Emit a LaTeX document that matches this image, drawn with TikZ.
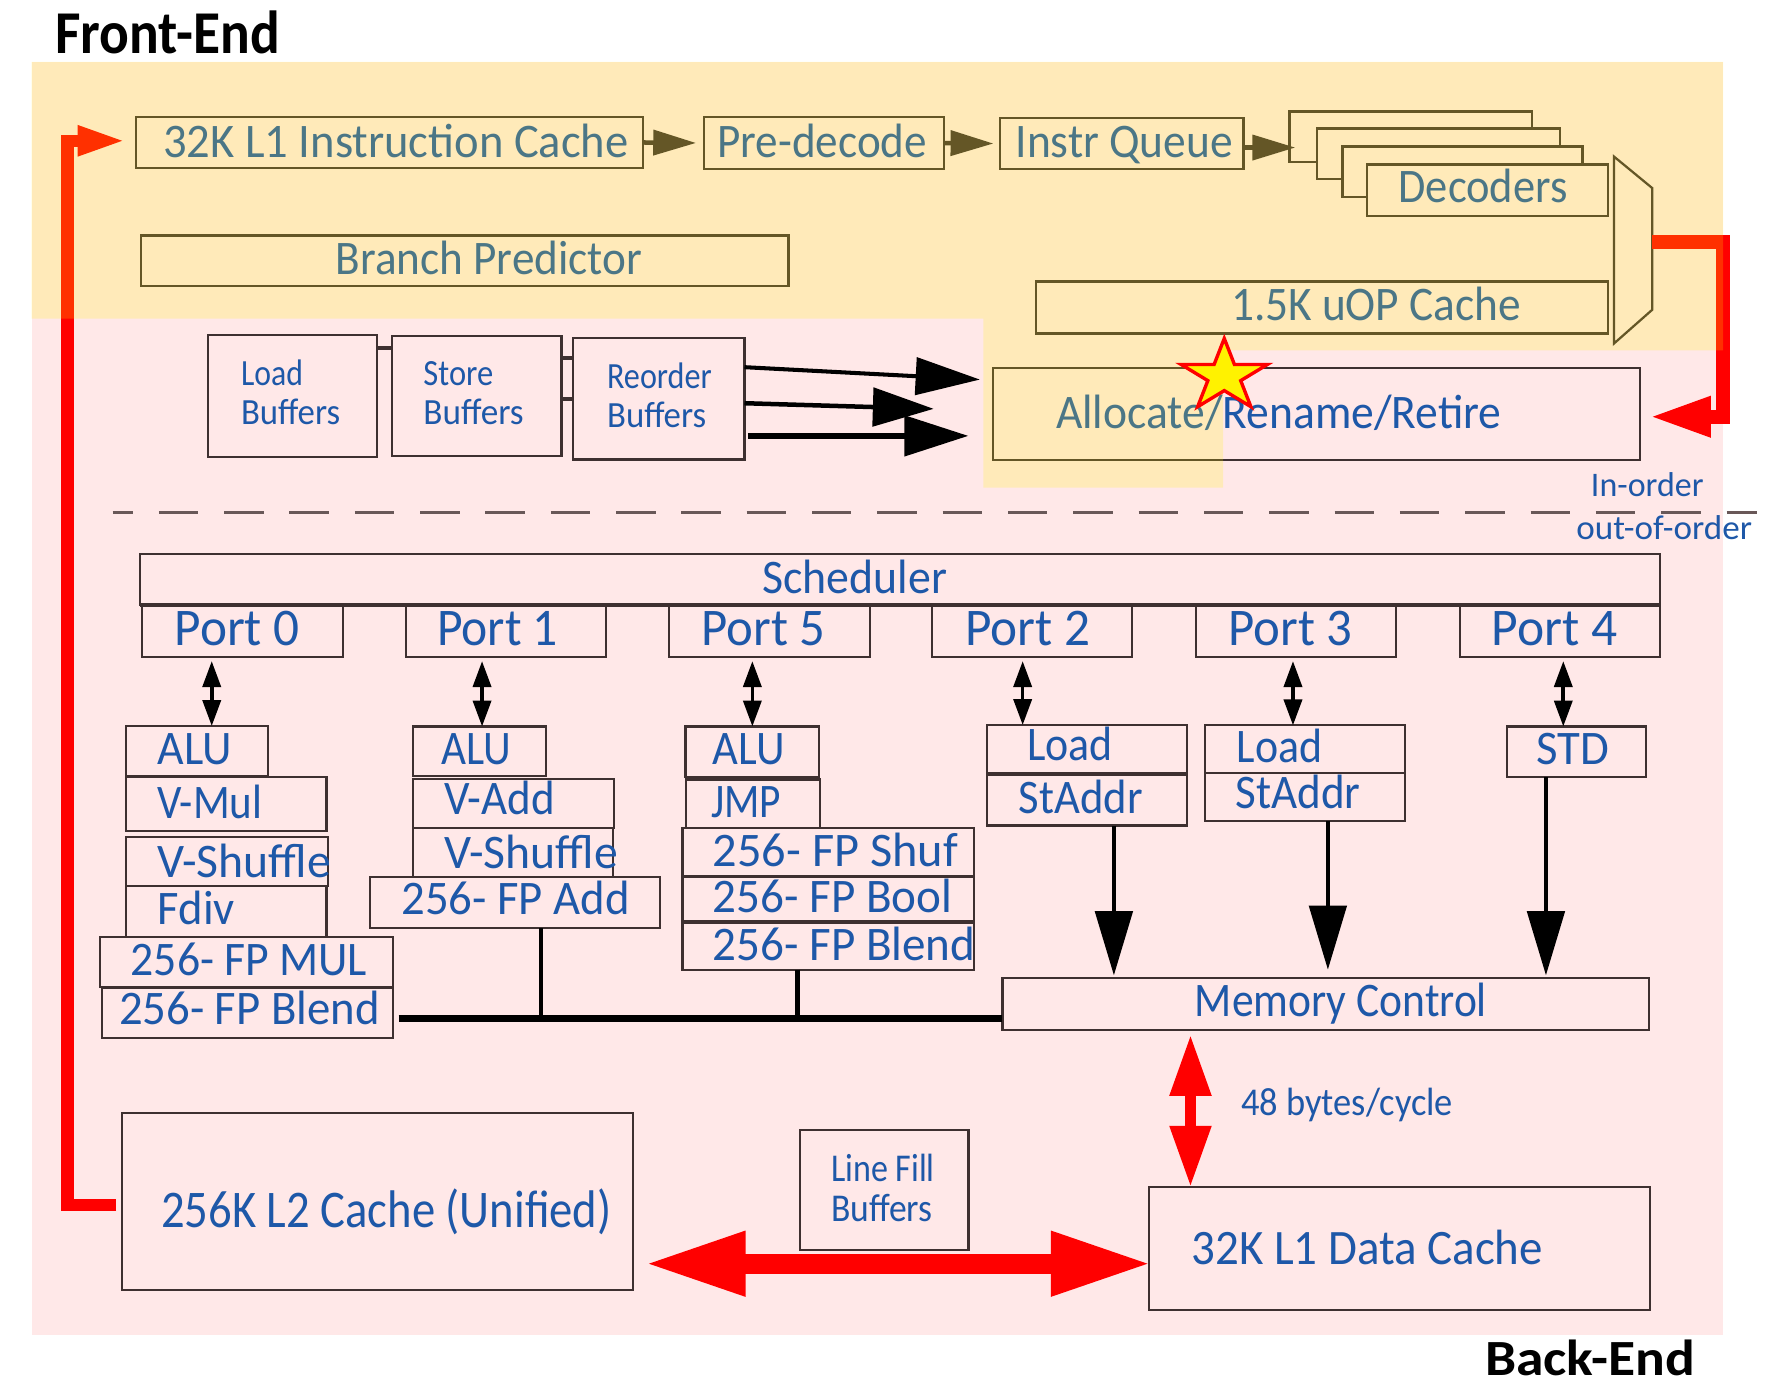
\documentclass[tikz,border=0pt]{standalone}
\usepackage{fontspec}
\setmainfont{Carlito}
\usetikzlibrary{arrows.meta,shapes.geometric,fit}
\definecolor{pinkbg}{RGB}{255,232,232}
\definecolor{txtblue}{RGB}{30,88,168}
\definecolor{edgec}{RGB}{62,48,48}
\definecolor{dashc}{RGB}{105,88,88}
\definecolor{redc}{RGB}{255,0,0}
\newcommand\W[2]{\resizebox{#1pt}{\height}{#2}}
\begin{document}
\begin{tikzpicture}[x=0.5pt,y=-0.5pt,
  box/.style={draw=edgec, line width=1pt, inner sep=0pt, outer sep=0pt},
  lab/.style={text=txtblue, inner sep=0pt, outer sep=0pt, anchor=base west, font=\fontsize{21.4}{24}\selectfont},
  portlab/.style={lab, font=\fontsize{23.5}{26}\selectfont},
  small/.style={lab, font=\fontsize{16.4}{19}\selectfont},
  tiny/.style={lab, font=\fontsize{15.3}{18}\selectfont},
  mid/.style={lab, font=\fontsize{17.5}{20}\selectfont},
  big/.style={lab, font=\fontsize{23.5}{26}\selectfont},
  title/.style={inner sep=0pt, outer sep=0pt, anchor=base west, text=black},
  frontarr/.style={draw=edgec, line width=2pt, -{Triangle[length=19pt,width=11pt]}},
  portarr/.style={draw=black, line width=1.6pt, {Triangle[length=11.5pt,width=8pt]}-{Triangle[length=11.5pt,width=8pt]}},
  memarr/.style={draw=black, line width=2pt, -{Triangle[length=28.5pt,width=16.5pt]}},
  redpath/.style={draw=redc, line width=5.5pt}
]
\useasboundingbox (0,0) rectangle (1568,1233);
% background
\fill[pinkbg] (28,55) rectangle (1530,1185);

% ---------- front end ----------
\node[box, fit={(121,104)(571,149)}] (l1i) {};
\node[box, fit={(625,104)(838,150)}] (pre) {};
\node[box, fit={(888,105)(1104,150)}] (iq) {};
\node[box, fill=pinkbg, fit={(1145,99)(1360,144)}] (dec1) {};
\node[box, fill=pinkbg, fit={(1169,114)(1385,159)}] (dec2) {};
\node[box, fill=pinkbg, fit={(1192,130)(1405,175)}] (dec3) {};
\node[box, fill=pinkbg, fit={(1214,146)(1428,192)}] (dec4) {};
\node[box, fit={(920,250)(1428,296)}] (uop) {};
\node[box, fit={(125,209)(700,254)}] (bp) {};
\draw[draw=edgec, line width=1pt] (1433,139) -- (1467,167) -- (1467,275) -- (1433,305) -- cycle;
\coordinate (muxo) at (1467,215);

\node[lab] (t-l1i) at (145,139.5) {\W{206.5}{32K L1 Instruction Cache}};
\node[lab] (t-pre) at (637,139.5) {\W{93}{Pre-decode}};
\node[lab] (t-iq) at (901.7,139.5) {\W{96.5}{Instr Queue}};
\node[lab] (t-dec) at (1241.8,180) {\W{75}{Decoders}};
\node[lab] (t-bp) at (298,243.3) {\W{136}{Branch Predictor}};
\node[lab] (t-uop) at (1093,284.7) {\W{128.7}{1.5K uOP Cache}};

\draw[frontarr, shorten >=3.5pt] (l1i.east) -- (pre.west);
\draw[frontarr, shorten >=3pt] (pre.east) -- (iq.west);
\draw[frontarr, shorten >=-2.5pt] (iq.east |- 0,131) -- (dec1.west |- 0,131);

% ---------- buffers / allocate ----------
\node[box, fit={(184.5,297.4)(335,405.5)}] (lb) {};
\node[box, fit={(348,298)(498.5,405)}] (sb) {};
\node[box, fit={(508.6,300)(661,408)}] (rob) {};
\draw[edgec, line width=1.8pt] (lb.east |- 0,309) -- (sb.west |- 0,309);
\draw[edgec, line width=1.8pt] (sb.east |- 0,318) -- (rob.west |- 0,318);
\draw[edgec, line width=1.8pt] (sb.east |- 0,354) -- (rob.west |- 0,354);
\node[small] (t-lb1) at (214,342) {\W{27.5}{Load}};
\node[small] (t-lb2) at (214,377) {\W{44}{Buffers}};
\node[small] (t-sb1) at (376,342) {\W{31}{Store}};
\node[small] (t-sb2) at (376,377) {\W{44.5}{Buffers}};
\node[small] (t-rb1) at (539,345) {\W{46.5}{Reorder}};
\node[small] (t-rb2) at (539,380) {\W{44}{Buffers}};

\node[box, fit={(881.7,327)(1456,408.6)}] (alloc) {};
\node[lab] (t-alloc) at (937.6,380.3) {\W{197.7}{Allocate/Rename/Retire}};

\coordinate (ra1) at (870,337);
\coordinate (ra2) at (829,363);
\coordinate (ra3) at (860,387);
\draw[black, line width=1.8pt, -{Triangle[length=28.5pt,width=16.5pt]}] (rob.east |- 0,326) -- (ra1);
\draw[black, line width=2pt, -{Triangle[length=27pt,width=17pt]}] (rob.east |- 0,358) -- (ra2);
\draw[black, line width=3pt, -{Triangle[length=28.5pt,width=17.5pt]}, shorten <=1.5pt] (rob.east |- 0,387) -- (ra3);

\node[tiny] (t-in) at (1412.6,441) {\W{50}{In-order}};
\node[tiny] (t-out) at (1399.6,478.6) {\W{78}{out-of-order}};
\coordinate (dl) at (100,455);
\coordinate (dr) at (1560,455);
\draw[dashc, line width=1.2pt, dash pattern=on 17.5pt off 11.5pt, dash phase=8.5pt] (dl) -- (dr);

% ---------- scheduler / ports ----------
\node[box, fit={(124,492)(1474,537)}] (sched) {};
\draw[edgec, line width=2pt] (sched.south west) -- (sched.south east);
\node[lab] (t-sched) at (677,527) {\W{82}{Scheduler}};
\node[box, fit={(126,537)(304.6,583)}] (p0) {};
\node[box, fit={(360.5,537)(538,583)}] (p1) {};
\node[box, fit={(594,537)(772.6,583)}] (p5) {};
\node[box, fit={(827.6,537)(1005,583)}] (p2) {};
\node[box, fit={(1062,537)(1239.6,583)}] (p3) {};
\node[box, fit={(1296,537)(1474,583)}] (p4) {};
\node[portlab] (t-p0) at (155,573) {\W{55.5}{Port 0}};
\node[portlab] (t-p1) at (388,573) {\W{53.7}{Port 1}};
\node[portlab] (t-p5) at (623,573) {\W{55}{Port 5}};
\node[portlab] (t-p2) at (857,573) {\W{55.5}{Port 2}};
\node[portlab] (t-p3) at (1090.6,573) {\W{55}{Port 3}};
\node[portlab] (t-p4) at (1324.4,573) {\W{55.8}{Port 4}};

% port 0 units
\node[box, fit={(112,644.6)(238,689)}] (alu0) {};
\node[box, fit={(112,689.6)(290,737.5)}] (vmul) {};
\node[box, fit={(112,743)(291,786.7)}] (vshuf0) {};
\node[box, fit={(112,786.7)(290,832)}] (fdiv) {};
\node[box, fit={(89,832)(349,876)}] (fpmul) {};
\node[box, fit={(90.5,877)(349,921.6)}] (fpblend0) {};
\node[lab] (t-alu0) at (140,679) {\W{33}{ALU}};
\node[lab] (t-vmul) at (140,727) {\W{46.5}{V-Mul}};
\node[lab] (t-vshuf0) at (140,778.7) {\W{77}{V-Shuffle}};
\node[lab] (t-fdiv) at (140,821) {\W{34.3}{Fdiv}};
\node[lab] (t-fpmul) at (116,865.7) {\W{105}{256- FP MUL}};
\node[lab] (t-fpblend0) at (105.7,910) {\W{115.7}{256- FP Blend}};

% port 1 units
\node[box, fit={(366.7,645)(485,689)}] (alu1) {};
\node[box, fit={(366.7,691.7)(545,735)}] (vadd) {};
\node[box, fit={(366.7,735)(544,778.6)}] (vshuf1) {};
\node[box, fill=pinkbg, fit={(328.5,778.6)(586,824)}] (fpadd) {};
\node[lab] (t-alu1) at (392,679) {\W{31}{ALU}};
\node[lab] (t-vadd) at (394.7,723.6) {\W{49}{V-Add}};
\node[lab] (t-vshuf1) at (394.7,770.7) {\W{77}{V-Shuffle}};
\node[lab] (t-fpadd) at (356.4,811.6) {\W{101.3}{256- FP Add}};

% port 5 units
\node[box, fit={(608.7,645)(727,690)}] (alu5) {};
\node[box, fit={(609,692)(728,735)}] (jmp) {};
\node[box, fit={(606,735)(865,778)}] (fpshuf) {};
\node[box, fit={(606,778.6)(865,817.5)}] (fpbool) {};
\node[box, fit={(606,819.7)(865,861)}] (fpblend5) {};
\node[lab] (t-alu5) at (633,679) {\W{32}{ALU}};
\node[lab] (t-jmp) at (631.6,726) {\W{31}{JMP}};
\node[lab] (t-fpshuf) at (633,769.5) {\W{108.8}{256- FP Shuf}};
\node[lab] (t-fpbool) at (633,810) {\W{106.3}{256- FP Bool}};
\node[lab] (t-fpblend5) at (633,852.4) {\W{116.5}{256- FP Blend}};

% ports 2,3,4 units
\node[box, fit={(876.4,643.7)(1054,686.5)}] (load2) {};
\node[box, fit={(876.4,688)(1054,733)}] (staddr2) {};
\node[box, fit={(1069.6,644)(1247.5,686)}] (load3) {};
\node[box, fit={(1069.6,686)(1247.5,728.7)}] (staddr3) {};
\node[box, fit={(1338,645)(1461.6,690)}] (std) {};
\node[lab] (t-load2) at (912,674.8) {\W{38}{Load}};
\node[lab] (t-staddr2) at (904.5,722) {\W{55}{StAddr}};
\node[lab] (t-load3) at (1098,677) {\W{38}{Load}};
\node[lab] (t-staddr3) at (1097,718) {\W{55.5}{StAddr}};
\node[lab] (t-std) at (1364.4,679) {\W{32.3}{STD}};

% port arrows
\draw[portarr, shorten <=2pt] (p0.south -| 188,0) -- (alu0.north -| 188,0);
\draw[portarr, shorten <=2pt] (p1.south -| 428,0) -- (alu1.north -| 428,0);
\draw[portarr, shorten <=2pt] (p5.south -| 668,0) -- (alu5.north -| 668,0);
\draw[portarr, shorten <=2pt] (p2.south -| 908,0) -- (load2.north -| 908,0);
\draw[portarr, shorten <=2pt] (p3.south -| 1148,0) -- (load3.north -| 1148,0);
\draw[portarr, shorten <=2pt] (p4.south -| 1388,0) -- (std.north -| 1388,0);

% memory control
\node[box, fit={(890,868.6)(1464,914.5)}] (mem) {};
\node[lab] (t-mem) at (1061,902.7) {\W{129.6}{Memory Control}};
\draw[memarr, shorten >=1.3pt] (staddr2.south -| 989,0) -- (mem.north -| 989,0);
\draw[memarr, shorten >=3.8pt] (staddr3.south -| 1179,0) -- (mem.north -| 1179,0);
\draw[memarr, shorten >=1.3pt] (std.south -| 1372.6,0) -- (mem.north -| 1372.6,0);

% bus
\coordinate (j1) at (480.5,904);
\coordinate (j2) at (708,904);
\draw[black, line width=3pt, shorten <=2.5pt] (fpblend0.east |- 0,904) -- (mem.west |- 0,904);
\draw[black, line width=2pt] (fpadd.south -| j1) -- (j1);
\draw[black, line width=2pt] (fpblend5.south -| j2) -- (j2);

% caches
\node[box, fit={(108,988)(562,1145.4)}] (l2) {};
\node[big] (t-l2) at (143,1090) {\W{200}{256K L2 Cache (Unified)}};
\node[box, fit={(710,1003)(860,1110)}] (lfb) {};
\node[mid] (t-lfb1) at (738,1049) {\W{46}{Line Fill}};
\node[mid] (t-lfb2) at (738,1084.7) {\W{45}{Buffers}};
\node[box, fit={(1020,1053.6)(1465,1163)}] (l1d) {};
\node[lab, font=\fontsize{22}{25}\selectfont] (t-l1d) at (1058,1123) {\W{156}{32K L1 Data Cache}};
\node[mid] (t-48) at (1102,990) {\W{94}{48 bytes/cycle}};

% red connectors
\draw[draw=redc, line width=4.5pt, {Triangle[length=27pt,width=17.5pt]}-{Triangle[length=27pt,width=17.5pt]}, shorten <=2.2pt] (mem.south -| 1057,0) -- (l1d.north -| 1057,0);
\draw[draw=redc, line width=9pt, {Triangle[length=45pt,width=26.5pt]}-{Triangle[length=45pt,width=26.5pt]}, shorten <=5pt, shorten >=-1.5pt] (l2.east |- 0,1122) -- (l1d.west |- 0,1122);
\draw[redpath, -{Triangle[length=22pt,width=12pt]}, shorten <=2.5pt, shorten >=4pt] (l2.west |- 0,1070) -- (60,1070) -- (60,125) -- (l1i.west |- 0,125);
\draw[redpath, line width=6.3pt, -{Triangle[length=27.5pt,width=16.5pt]}, shorten >=4pt] (muxo) -- (1530,215) -- (1530,370) -- (alloc.east |- 0,370);

% front-end overlay
\fill[yellow, fill opacity=0.2] (28,55) -- (1530,55) -- (1530,311) -- (1086,311) -- (1086,433) -- (873,433) -- (873,283) -- (28,283) -- cycle;

\node[star, star points=5, star point ratio=2.618, minimum size=33.5pt, inner sep=0pt, draw=redc, fill=yellow, line width=1.5pt, xscale=1.2, transform shape] (star) at (1087,334) {};

% titles
\node[title, font=\bfseries\fontsize{27}{30}\selectfont] (fe) at (49,47.4) {\W{99.8}{Front-End}};
\node[title, font=\bfseries\fontsize{22.5}{26}\selectfont] (be) at (1318.6,1221) {\W{93.3}{Back-End}};
\end{tikzpicture}
\end{document}
